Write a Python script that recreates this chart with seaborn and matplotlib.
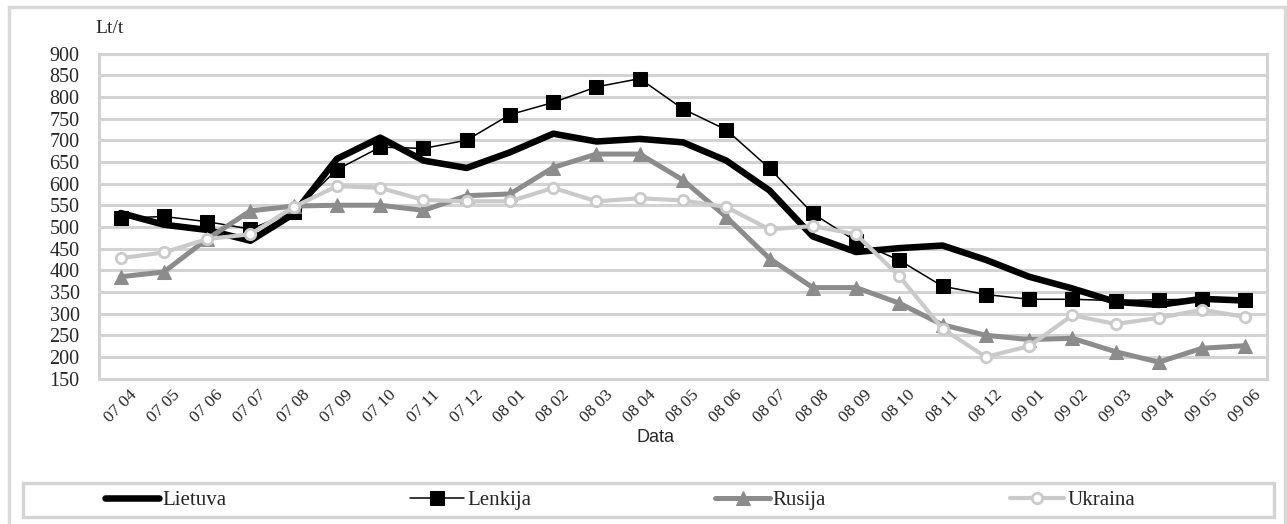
import matplotlib
matplotlib.use("Agg")
from matplotlib import pyplot as plt
from matplotlib.patches import Rectangle
import numpy as np
import seaborn as sns

dates = ['07 04', '07 05', '07 06', '07 07', '07 08', '07 09', '07 10', '07 11', '07 12',
         '08 01', '08 02', '08 03', '08 04', '08 05', '08 06', '08 07', '08 08', '08 09',
         '08 10', '08 11', '08 12', '09 01', '09 02', '09 03', '09 04', '09 05', '09 06']

lietuva = [532, 505, 493, 468, 530, 657, 706, 653, 636, 672, 715, 697, 703, 695, 653, 584,
           478, 442, 451, 457, 424, 385, 358, 327, 320, 334, 330]
lenkija = [520, 524, 512, 495, 535, 632, 684, 681, 700, 759, 787, 823, 842, 772, 724, 635,
           531, 467, 423, 363, 344, 333, 333, 330, 332, 333, 332]
rusija = [385, 396, 472, 537, 548, 550, 550, 538, 572, 576, 637, 668, 668, 608, 523, 427,
          360, 360, 324, 274, 250, 240, 243, 212, 188, 220, 226]
ukraina = [428, 441, 472, 483, 546, 594, 590, 562, 559, 559, 590, 559, 566, 561, 546, 494,
           502, 483, 386, 265, 200, 225, 296, 276, 290, 309, 292]

yticks = list(range(150, 901, 50))

sns.set_style("white")
plt.rcParams['font.family'] = ['Liberation Serif', 'DejaVu Serif']

W, H = 1287, 524
GRID = '#d3d3d3'

fig = plt.figure(figsize=(W / 100, H / 100), dpi=100)
ax = fig.add_axes([99 / W, 1 - 378.6 / H, 1168 / W, 325.1 / H])

# === series ===
sns.lineplot(x=dates, y=lietuva, ax=ax, color='black', lw=4.7, label='Lietuva',
             legend=False, sort=False, solid_joinstyle='round')
sns.lineplot(x=dates, y=lenkija, ax=ax, color='black', lw=1.1, marker='s', ms=9.5,
             mec='black', label='Lenkija', legend=False, sort=False)
sns.lineplot(x=dates, y=rusija, ax=ax, color='#8c8c8c', lw=3.6, marker='^', ms=10.5,
             mec='#8c8c8c', label='Rusija', legend=False, sort=False)
sns.lineplot(x=dates, y=ukraina, ax=ax, color='#cacaca', lw=3.0, marker='o', ms=7.5,
             mfc='white', mec='#cacaca', mew=2.0, label='Ukraina', legend=False, sort=False)

# === axes ===
ax.set_xlim(-0.5, len(dates) - 0.5)
ax.set_ylim(150, 900)
ax.set_yticks(yticks)
ax.set_yticklabels([str(v) for v in yticks], fontsize=14.5)
ax.set_xticks(range(len(dates)))
ax.set_xticklabels(dates, rotation=45, ha='center', fontsize=12.5)
ax.set_xticks(np.arange(-0.5, len(dates), 1), minor=True)
ax.tick_params(axis='x', which='major', length=0, pad=6)
ax.tick_params(axis='x', which='minor', length=6, width=2, color=GRID)
ax.tick_params(axis='y', length=6, width=2, color=GRID, pad=8)
ax.yaxis.grid(True, color=GRID, lw=2.2)
ax.xaxis.grid(False)
ax.set_axisbelow(True)
for s in ax.spines.values():
    s.set_color(GRID)
    s.set_linewidth(2.2)
ax.set_xlabel('')
ax.set_ylabel('')

fig.text(95 / W, 1 - 33 / H, 'Lt/t', fontsize=14, va='baseline')
fig.text(655 / W, 1 - 437 / H, 'Data', family=['Liberation Sans', 'DejaVu Sans'],
         fontsize=13, ha='center', va='center')

# === frames ===
fig.patches.append(Rectangle((9 / W, -0.05), (1285 - 9) / W, 1.05 - 6.5 / H,
                             transform=fig.transFigure, fill=False, ec='#d9d9d9', lw=2.5))
fig.patches.append(Rectangle((23 / W, 1 - 517 / H), 1251 / W, 34 / H,
                             transform=fig.transFigure, fill=False, ec=GRID, lw=2.4))

handles, labels = ax.get_legend_handles_labels()
fig.legend(handles, labels, loc='center', ncol=4, mode='expand',
           bbox_to_anchor=(105 / W, 1 - 515 / H, 1030 / W, 30 / H),
           frameon=False, borderaxespad=0, borderpad=0, handlelength=2.6,
           handletextpad=0.15, fontsize=15)

fig.savefig('out.png', dpi=100)
